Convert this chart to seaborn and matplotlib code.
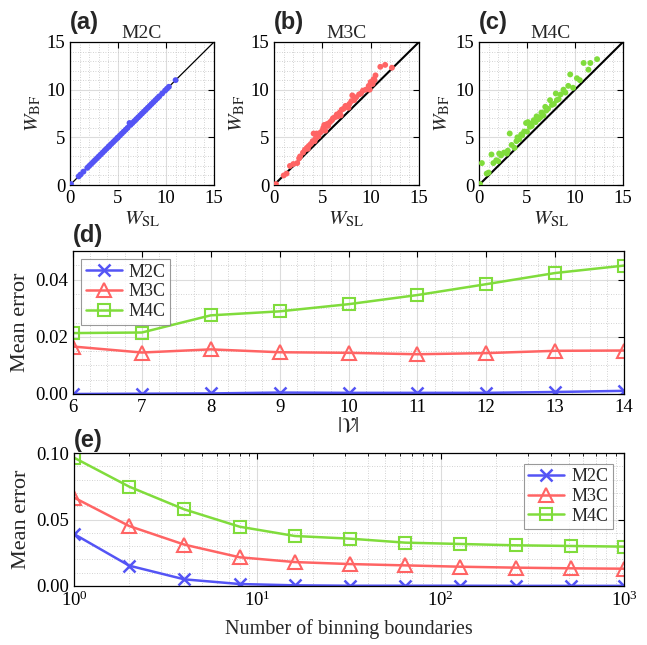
import numpy as np
import pandas as pd
import matplotlib
matplotlib.use("Agg")
import matplotlib.pyplot as plt
import seaborn as sns
from matplotlib.ticker import MultipleLocator, AutoMinorLocator, LogLocator, NullFormatter

# ---------------- data ----------------
series_names = ["M2C", "M3C", "M4C"]
colors = {"M2C": "#5454f5", "M3C": "#ff6464", "M4C": "#80dc3c"}
markers = {"M2C": "x", "M3C": "^", "M4C": "s"}

# scatter (a) M2C
a_x = [0.1, 0.9, 1.1, 1.4, 1.8, 2.0, 2.2, 2.4, 2.6, 2.8, 3.0, 3.2, 3.4, 3.6, 3.8, 4.0,
       4.1, 4.3, 4.5, 4.7, 4.9, 5.0, 5.2, 5.4, 5.6, 5.8, 6.0, 6.2, 6.3, 6.5, 6.7, 6.9,
       7.1, 7.3, 7.5, 7.7, 7.9, 8.1, 8.3, 8.5, 8.7, 8.9, 9.1, 9.3, 9.6, 9.9, 10.1, 10.3, 11.0]
a_y = [0.1, 0.9, 1.1, 1.4, 1.8, 2.0, 2.2, 2.4, 2.6, 2.8, 3.0, 3.2, 3.4, 3.6, 3.8, 4.0,
       4.1, 4.3, 4.5, 4.7, 4.9, 5.0, 5.2, 5.4, 5.6, 5.8, 6.0, 6.5, 6.3, 6.5, 6.7, 6.9,
       7.1, 7.3, 7.5, 7.7, 7.9, 8.1, 8.3, 8.5, 8.7, 8.9, 9.1, 9.3, 9.6, 9.9, 10.1, 10.3, 11.0]

# scatter (b) M3C
b_x = [0.2, 1.0, 1.3, 1.65, 2.0, 2.4, 2.6, 2.7, 3.0, 3.2, 3.4, 3.5, 3.6, 3.8, 4.0, 4.1,
       4.2, 4.3, 4.4, 4.5, 4.6, 4.8, 5.0, 5.1, 5.2, 5.3, 5.4, 5.5, 5.6, 5.8, 6.0, 6.1,
       6.3, 6.5, 6.6, 6.8, 6.9, 7.0, 7.2, 7.4, 7.6, 7.7, 7.8, 8.0, 8.1, 8.3, 8.5, 8.8,
       9.0, 9.2, 9.5, 9.8, 9.9, 10.0, 10.2, 10.3, 10.4, 10.5, 11.0, 11.5, 12.2]
b_y = [0.1, 1.0, 1.2, 2.0, 2.2, 2.3, 2.8, 3.0, 3.4, 3.7, 3.9, 3.8, 4.1, 4.3, 4.6, 5.4,
       4.6, 4.9, 5.4, 5.2, 5.1, 5.5, 5.7, 6.0, 6.3, 5.7, 6.3, 6.4, 6.2, 6.6, 6.8, 7.0,
       7.1, 7.4, 7.2, 7.6, 7.3, 7.9, 8.0, 8.3, 8.2, 8.1, 8.5, 8.8, 9.4, 8.9, 9.2, 9.5,
       9.6, 9.9, 10.0, 10.4, 10.0, 10.8, 10.6, 11.1, 11.0, 11.5, 12.4, 12.6, 12.3]

# scatter (c) M4C
c_x = [0.1, 0.3, 0.8, 1.0, 1.3, 1.5, 1.8, 2.0, 2.1, 2.3, 2.6, 2.9, 3.0, 3.2, 3.4, 3.7,
       3.9, 4.0, 4.2, 4.4, 4.5, 4.7, 4.9, 5.0, 5.1, 5.3, 5.4, 5.5, 5.7, 5.9, 6.0, 6.2,
       6.4, 6.5, 6.7, 6.9, 7.0, 7.2, 7.4, 7.6, 7.8, 8.0, 8.1, 8.3, 8.5, 8.8, 9.0, 9.3,
       9.5, 9.8, 10.2, 10.5, 10.9, 11.4, 11.6, 12.3]
c_y = [0.1, 2.3, 1.2, 1.3, 3.2, 2.3, 2.6, 2.5, 3.3, 3.1, 3.4, 3.3, 3.6, 5.4, 4.2, 3.9,
       4.6, 5.0, 4.8, 5.3, 5.2, 5.6, 6.5, 5.6, 6.6, 6.1, 6.4, 6.2, 6.8, 6.6, 7.2, 6.9,
       7.1, 7.6, 7.3, 8.2, 7.8, 8.0, 8.9, 8.4, 8.5, 9.6, 8.9, 9.0, 9.5, 10.0, 9.7, 10.4,
       11.6, 10.2, 11.2, 11.0, 12.8, 12.1, 12.8, 13.2]

# panel (d): mean error vs |V|
d_x = [6, 7, 8, 9, 10, 11, 12, 13, 14]
d_m2c = [0.0000, 0.0001, 0.0002, 0.0005, 0.0004, 0.0004, 0.0004, 0.0007, 0.0011]
d_m3c = [0.0166, 0.0145, 0.0156, 0.0146, 0.0144, 0.0139, 0.0143, 0.0151, 0.0152]
d_m4c = [0.0213, 0.0215, 0.0275, 0.0289, 0.0314, 0.0346, 0.0384, 0.0423, 0.0449]

# panel (e): mean error vs number of binning boundaries
e_x = [1, 2, 4, 8, 16, 32, 64, 128, 256, 512, 1000]
e_m2c = [0.0391, 0.0153, 0.0050, 0.0015, 0.0005, 0.0002, 0.0002, 0.0002, 0.0001, 0.0001, 0.0001]
e_m3c = [0.0665, 0.0451, 0.0311, 0.0216, 0.0180, 0.0165, 0.0155, 0.0145, 0.0138, 0.0133, 0.0130]
e_m4c = [0.0965, 0.0747, 0.0576, 0.0446, 0.0376, 0.0356, 0.0326, 0.0316, 0.0306, 0.0301, 0.0296]

# ---------------- style ----------------
sns.set_theme(style="white")
plt.rcParams["font.family"] = ["Liberation Serif", "DejaVu Serif"]
plt.rcParams["mathtext.fontset"] = "stix"
plt.rcParams["axes.edgecolor"] = "black"
plt.rcParams["axes.linewidth"] = 0.9

fig = plt.figure(figsize=(6.47, 6.45), dpi=100)

W = 647.0
H = 645.0


def box(l, t, r, b):
    return [l / W, 1 - b / H, (r - l) / W, (b - t) / H]


def style_axes(ax):
    ax.tick_params(direction="in", top=True, right=True, which="both",
                   labelsize=13.5, colors="black", length=4, width=0.8)
    ax.tick_params(which="minor", length=0)
    ax.grid(True, which="major", color="#dcdcdc", lw=0.8, ls="-")
    ax.grid(True, which="minor", color="#c4c4c4", lw=0.6, ls=(0, (1, 2)))
    ax.set_axisbelow(True)
    for s in ax.spines.values():
        s.set_color("black")


scatter_sets = [("(a)", "M2C", a_x, a_y, 70, 214, 0.9),
                ("(b)", "M3C", b_x, b_y, 274, 419, 1.5),
                ("(c)", "M4C", c_x, c_y, 479, 623, 1.5)]

for letter, name, xs, ys, l, r, dlw in scatter_sets:
    ax = fig.add_axes(box(l, 42, r, 185))
    ax.plot([0, 15], [0, 15], color="black", lw=dlw, zorder=2)
    sns.scatterplot(x=xs, y=ys, ax=ax, color=colors[name], s=18,
                    edgecolor="none", zorder=3)
    ax.set_xlim(0, 15)
    ax.set_ylim(0, 15)
    ax.xaxis.set_major_locator(MultipleLocator(5))
    ax.yaxis.set_major_locator(MultipleLocator(5))
    ax.xaxis.set_minor_locator(MultipleLocator(1))
    ax.yaxis.set_minor_locator(MultipleLocator(1))
    style_axes(ax)
    ax.set_title(name, fontsize=14, pad=3)
    ax.set_xlabel(r"$W_{\rm SL}$", fontsize=15, labelpad=2)
    ax.set_ylabel(r"$W_{\rm BF}$", fontsize=15, labelpad=2)
    fig.text(l / W, 1 - 23 / H, letter, fontsize=17, fontweight="bold",
             family=["Liberation Sans", "DejaVu Sans"], ha="left", va="center")


def draw_lines(ax, xs, ys_by_name):
    for name in series_names:
        ys = ys_by_name[name]
        c = colors[name]
        if markers[name] == "x":
            sns.lineplot(x=xs, y=ys, ax=ax, color=c, lw=1.8, marker="x", ms=8,
                         mew=1.8, mec=c, label=name)
        else:
            ms = 10 if markers[name] == "^" else 8
            sns.lineplot(x=xs, y=ys, ax=ax, color=c, lw=1.8, marker=markers[name],
                         ms=ms, mew=1.5, mec=c, mfc="none", label=name)


def add_legend(ax, loc, pad):
    leg = ax.legend(loc=loc, fontsize=13, frameon=True, fancybox=False,
                    edgecolor="#808080", handlelength=2.0, handletextpad=0.4,
                    borderpad=0.25, labelspacing=0.15, borderaxespad=pad)
    leg.get_frame().set_linewidth(0.8)


# panel (d)
ax_d = fig.add_axes(box(73, 251, 624, 394))
draw_lines(ax_d, d_x, {"M2C": d_m2c, "M3C": d_m3c, "M4C": d_m4c})
ax_d.set_xlim(6, 14)
ax_d.set_ylim(0, 0.05)
ax_d.xaxis.set_major_locator(MultipleLocator(1))
ax_d.yaxis.set_major_locator(MultipleLocator(0.02))
ax_d.xaxis.set_minor_locator(AutoMinorLocator(4))
ax_d.yaxis.set_minor_locator(MultipleLocator(0.005))
ax_d.yaxis.set_major_formatter(plt.FormatStrFormatter("%.2f"))
style_axes(ax_d)
ax_d.set_xlabel(r"$|\mathcal{V}|$", fontsize=15, labelpad=1)
ax_d.set_ylabel("Mean error", fontsize=16, labelpad=4)
add_legend(ax_d, "upper left", 0.45)
fig.text(73 / W, 1 - 236 / H, "(d)", fontsize=17, fontweight="bold",
         family=["Liberation Sans", "DejaVu Sans"], ha="left", va="center")

# panel (e)
ax_e = fig.add_axes(box(74, 453, 624, 586))
draw_lines(ax_e, e_x, {"M2C": e_m2c, "M3C": e_m3c, "M4C": e_m4c})
ax_e.set_xscale("log")
ax_e.set_xlim(1, 1000)
ax_e.set_ylim(0, 0.1)
ax_e.yaxis.set_major_locator(MultipleLocator(0.05))
ax_e.yaxis.set_minor_locator(MultipleLocator(0.01))
ax_e.xaxis.set_major_locator(LogLocator(base=10))
ax_e.xaxis.set_minor_locator(LogLocator(base=10, subs=np.arange(2, 10)))
ax_e.xaxis.set_minor_formatter(NullFormatter())
ax_e.yaxis.set_major_formatter(plt.FormatStrFormatter("%.2f"))
style_axes(ax_e)
ax_e.tick_params(axis="x", which="minor", length=2.5, width=0.6)
ax_e.set_xlabel("Number of binning boundaries", fontsize=14.5, labelpad=6)
ax_e.set_ylabel("Mean error", fontsize=16, labelpad=4)
add_legend(ax_e, "upper right", 0.6)
fig.text(74 / W, 1 - 440 / H, "(e)", fontsize=17, fontweight="bold",
         family=["Liberation Sans", "DejaVu Sans"], ha="left", va="center")

fig.savefig("out.png", dpi=100)
